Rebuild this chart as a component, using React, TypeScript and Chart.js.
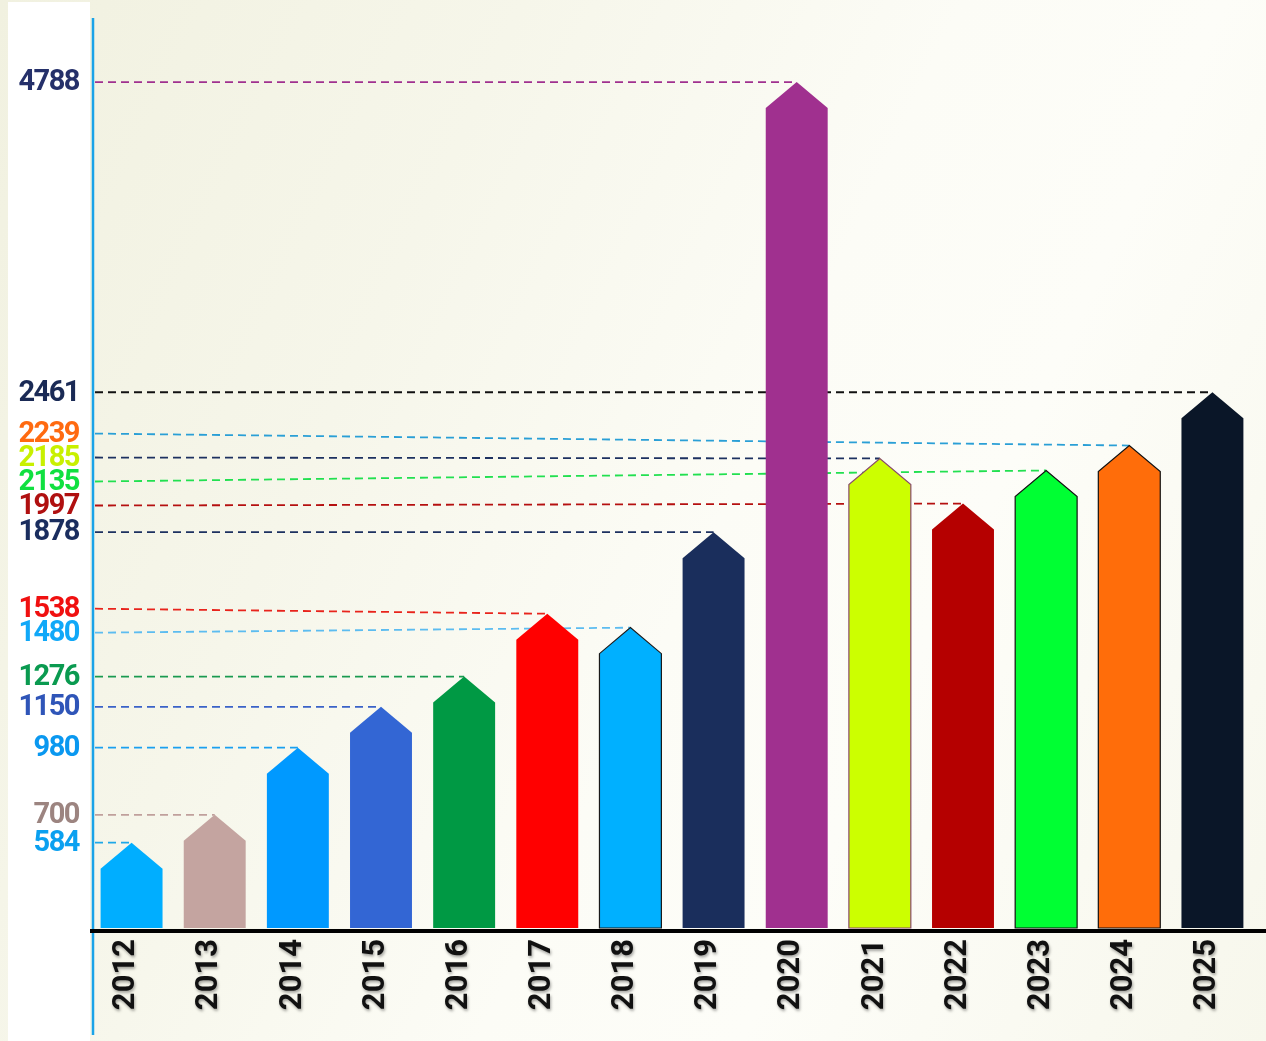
import React, { useEffect, useRef } from "react";
import { Chart, LinearScale, registerables } from "chart.js";

// values
const YEARS = ["2012", "2013", "2014", "2015", "2016", "2017", "2018", "2019", "2020", "2021", "2022", "2023", "2024", "2025"];
const VALUES = [584, 700, 980, 1150, 1276, 1538, 1480, 1878, 4788, 2185, 1997, 2135, 2239, 2461];

// styles, one per year
const BAR_COLORS = ["#00aeff", "#c4a4a0", "#0099ff", "#3366d4", "#009944", "#ff0000", "#00b0ff", "#1a2e5c", "#a0308f", "#ccff00", "#b50000", "#00ff33", "#ff6d0a", "#0a1628"];
const BAR_OUTLINES = ["transparent", "transparent", "transparent", "transparent", "transparent", "transparent", "#1a1a1a", "transparent", "transparent", "#8a4a6a", "transparent", "#111111", "#111111", "transparent"];
const LABEL_COLORS = ["#0aa0f0", "#9c8480", "#0a98f0", "#2f55b8", "#0a9a50", "#f01010", "#10a8f8", "#1a2d5e", "#25306a", "#c8f000", "#b01010", "#10e040", "#ff6a10", "#1a2a55"];
const LEADER_COLORS = ["#1ea8e8", "#c0a09c", "#1aa0f0", "#3a62c8", "#1a9a50", "#e8241c", "#5cbcf0", "#1d3160", "#a0308f", "#1d3160", "#b51010", "#22e050", "#2a9fd6", "#111111"];

// linear axis with a compressed section above a break value
class BrokenLinearScale extends LinearScale {
  static id = "brokenLinear";

  warp(v: number) {
    const o = this.options as any;
    const b = o.breakAt ?? 2500;
    const k = o.compress ?? 0.55;
    return v <= b ? v : b + (v - b) * k;
  }

  unwarp(t: number) {
    const o = this.options as any;
    const b = o.breakAt ?? 2500;
    const k = o.compress ?? 0.55;
    return t <= b ? t : b + (t - b) / k;
  }

  getPixelForValue(value: number) {
    if (value === null || isNaN(value)) return NaN;
    const lo = this.warp(this.min);
    const hi = this.warp(this.max);
    return this.getPixelForDecimal((this.warp(value) - lo) / (hi - lo));
  }

  getValueForPixel(pixel: number) {
    const lo = this.warp(this.min);
    const hi = this.warp(this.max);
    return this.unwarp(lo + this.getDecimalForPixel(pixel) * (hi - lo));
  }
}

Chart.register(...registerables, BrokenLinearScale);

const MIN_LABEL_GAP = 24;

const pentagonBars = {
  id: "pentagonBars",
  beforeDraw(chart: any) {
    const { ctx, height, chartArea } = chart;
    ctx.save();
    ctx.fillStyle = "#ffffff";
    ctx.fillRect(8, 2, chartArea.left - 8, height - 2);
    ctx.restore();
    // soft shadow for the year labels (drawn next by the x scale)
    ctx.shadowColor = "rgba(0,0,0,0.35)";
    ctx.shadowBlur = 3;
    ctx.shadowOffsetX = 1;
    ctx.shadowOffsetY = 2;
  },
  beforeDatasetsDraw(chart: any) {
    const { ctx, width, height, chartArea } = chart;
    ctx.shadowColor = "transparent";
    ctx.shadowBlur = 0;
    ctx.shadowOffsetX = 0;
    ctx.shadowOffsetY = 0;

    const meta = chart.getDatasetMeta(0);
    const yScale = chart.scales.y;

    // label positions, pushed apart where they would overlap
    const items = VALUES.map((v, i) => ({ i, y: yScale.getPixelForValue(v) })).sort((a, b) => a.y - b.y);
    for (let iter = 0; iter < 200; iter++) {
      let moved = false;
      for (let k = 1; k < items.length; k++) {
        const gap = items[k].y - items[k - 1].y;
        if (gap < MIN_LABEL_GAP - 0.01) {
          const d = (MIN_LABEL_GAP - gap) / 2;
          items[k - 1].y -= d;
          items[k].y += d;
          moved = true;
        }
      }
      if (!moved) break;
    }
    const labelY: number[] = [];
    items.forEach((it) => (labelY[it.i] = it.y));

    // leader lines
    ctx.save();
    ctx.lineWidth = 1.8;
    ctx.setLineDash([8, 5]);
    meta.data.forEach((bar: any, i: number) => {
      const { x, y } = bar.getProps(["x", "y"], true);
      ctx.strokeStyle = LEADER_COLORS[i];
      ctx.beginPath();
      ctx.moveTo(chartArea.left + 5, labelY[i]);
      ctx.lineTo(x, y);
      ctx.stroke();
    });
    ctx.restore();

    // bars with a pointed top
    ctx.save();
    meta.data.forEach((bar: any) => {
      const { x, y, base, width: w } = bar.getProps(["x", "y", "base", "width"], true);
      const bottom = Math.min(base, chartArea.bottom) - 2;
      const half = w / 2;
      const shoulder = Math.min(y + 26, bottom);
      ctx.beginPath();
      ctx.moveTo(x - half, bottom);
      ctx.lineTo(x - half, shoulder);
      ctx.lineTo(x, y);
      ctx.lineTo(x + half, shoulder);
      ctx.lineTo(x + half, bottom);
      ctx.closePath();
      ctx.fillStyle = bar.options.backgroundColor;
      ctx.fill();
      if (bar.options.borderColor !== "transparent") {
        ctx.strokeStyle = bar.options.borderColor;
        ctx.lineWidth = 1.2;
        ctx.stroke();
      }
    });
    ctx.restore();

    // axes
    ctx.save();
    ctx.strokeStyle = "#1aa3e8";
    ctx.lineWidth = 2.5;
    ctx.beginPath();
    ctx.moveTo(chartArea.left + 3, chartArea.top);
    ctx.lineTo(chartArea.left + 3, height - 6);
    ctx.stroke();
    ctx.strokeStyle = "#000000";
    ctx.lineWidth = 4;
    ctx.beginPath();
    ctx.moveTo(chartArea.left, chartArea.bottom + 1);
    ctx.lineTo(width, chartArea.bottom + 1);
    ctx.stroke();
    ctx.restore();

    // value labels on the left
    ctx.save();
    ctx.font = "bold 29px Roboto";
    (ctx as any).letterSpacing = "-1.5px";
    ctx.textAlign = "right";
    ctx.textBaseline = "middle";
    VALUES.forEach((v, i) => {
      ctx.fillStyle = LABEL_COLORS[i];
      ctx.fillText(String(v), chartArea.left - 11, labelY[i] + 1);
    });
    ctx.restore();

    return false;
  },
};

const App = () => {
  const canvasRef = useRef<HTMLCanvasElement>(null);
  const chartRef = useRef<Chart | null>(null);

  useEffect(() => {
    document.body.style.margin = "0";
    if (!canvasRef.current) return;
    const ctx = canvasRef.current.getContext("2d");
    if (!ctx) return;

    if (chartRef.current) chartRef.current.destroy();

    chartRef.current = new Chart(ctx, {
      type: "bar",
      data: {
        labels: YEARS,
        datasets: [
          {
            label: "Value",
            data: VALUES,
            backgroundColor: BAR_COLORS,
            borderColor: BAR_OUTLINES,
            borderWidth: 1,
            barPercentage: 0.745,
            categoryPercentage: 1,
          },
        ],
      },
      options: {
        responsive: true,
        maintainAspectRatio: false,
        animation: false,
        layout: { padding: { left: 90, right: 12, top: 18, bottom: 0 } },
        plugins: {
          legend: { display: false },
          tooltip: { enabled: false },
        },
        scales: {
          x: {
            type: "category",
            grid: { display: false, drawTicks: false },
            border: { display: false },
            ticks: {
              color: "#111111",
              font: { family: "Roboto", size: 31, weight: "bold" },
              minRotation: 90,
              maxRotation: 90,
              padding: 9,
              labelOffset: -5,
              autoSkip: false,
            },
            afterFit: (scale: any) => {
              scale.height = 111;
            },
          },
          y: {
            type: "brokenLinear" as any,
            display: false,
            min: 220,
            max: 5275,
            bounds: "data",
            breakAt: 2500,
            compress: 0.548,
          } as any,
        },
      },
      plugins: [pentagonBars],
    });

    return () => {
      if (chartRef.current) {
        chartRef.current.destroy();
        chartRef.current = null;
      }
    };
  }, []);

  return (
    <div
      style={{
        width: "1266px",
        height: "1041px",
        position: "relative",
        background: "linear-gradient(115deg, #f1f1e0 0%, #f6f6ea 30%, #fcfcf6 55%, #fdfdf8 70%, #f7f7ec 100%)",
      }}
    >
      <canvas ref={canvasRef} />
    </div>
  );
};

export default App;
